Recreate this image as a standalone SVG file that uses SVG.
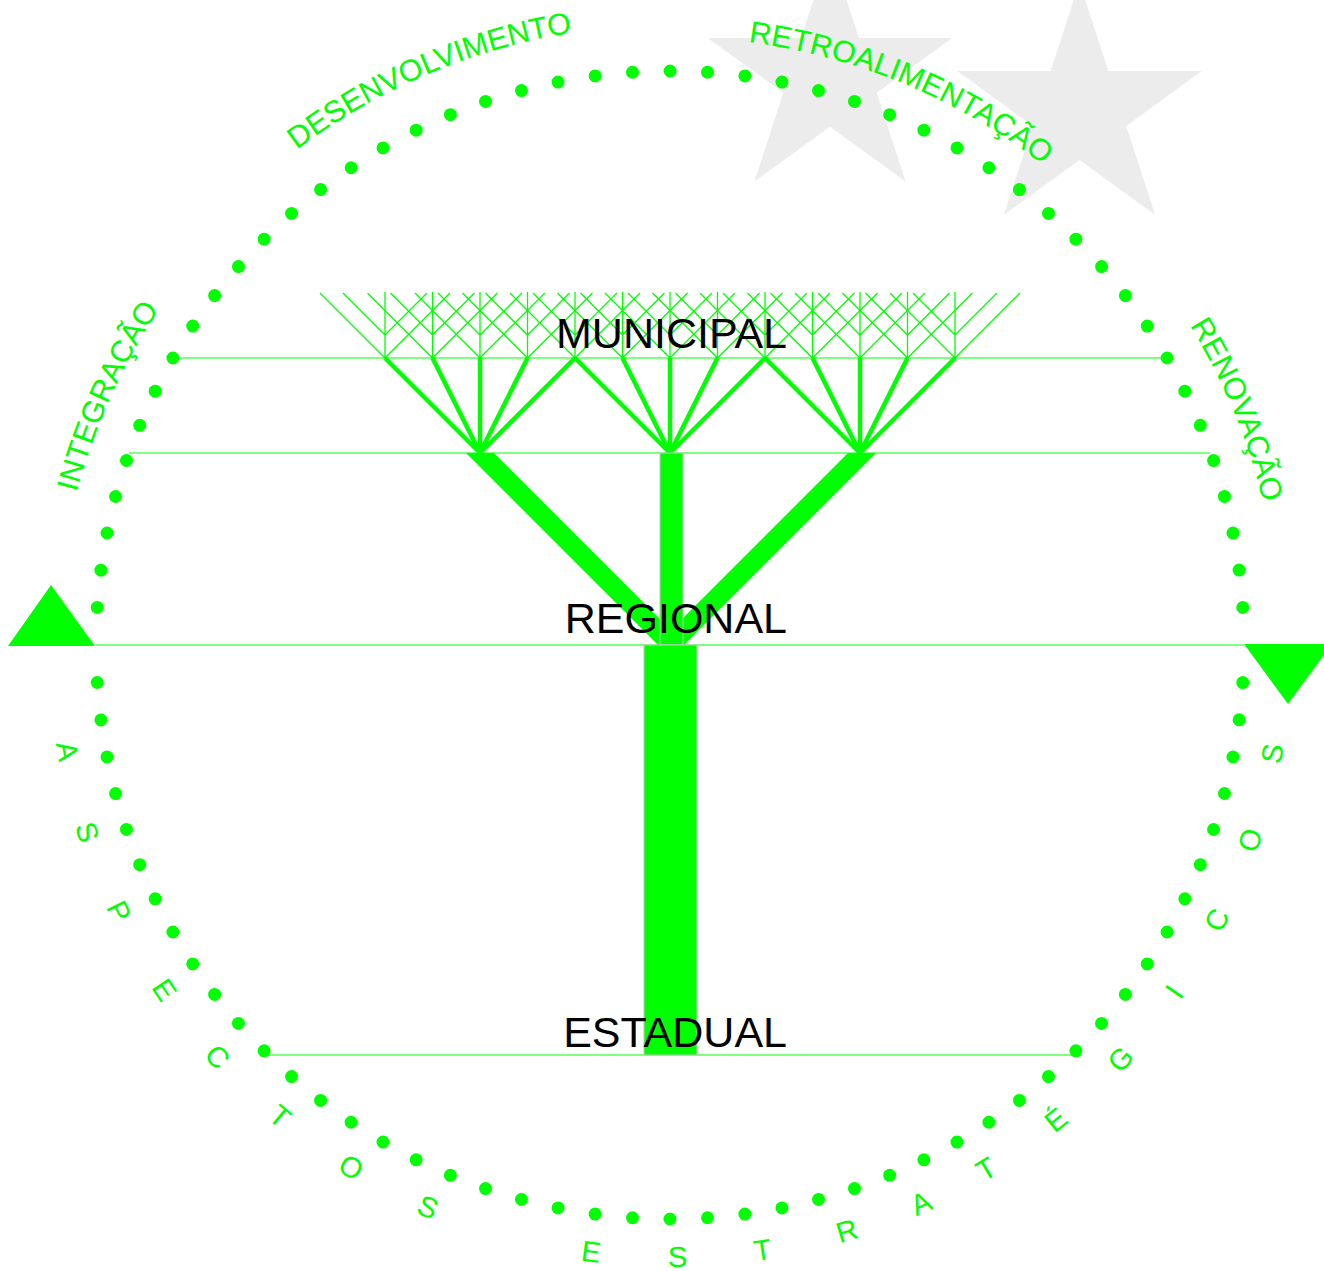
<svg xmlns="http://www.w3.org/2000/svg" width="1324" height="1271" viewBox="0 0 1324 1271">
<style>
.hl{stroke:#00ff00;stroke-width:1.2;fill:none}
.dots{fill:none;stroke:#00ff00;stroke-width:13;stroke-linecap:round}
.lbl{font-family:"Liberation Sans",Arial,sans-serif;font-size:43px;fill:#000000;text-anchor:end}
.arc{font-family:"Liberation Sans",Arial,sans-serif;font-size:30.5px;fill:#00ff00}
.asp{font-family:"Liberation Sans",Arial,sans-serif;font-size:29px;fill:#00ff00;text-anchor:middle}
.trunk{fill:#00ff00;stroke:#c4c4c4;stroke-width:1}
.branch{fill:#00ff00}
</style>
<defs>
<polygon id="star" points="0,-128.5 28.86,-39.72 122.21,-39.71 46.70,15.17 75.53,103.96 0,49.1 -75.53,103.96 -46.70,15.17 -122.21,-39.71 -28.86,-39.72"/>
<path id="twig" d="M0,0V-66M0,0L-65,-65M0,0L65,-65M0,-23L-42,-65M0,-23L42,-65" fill="none" stroke="#00ff00" stroke-width="1.3"/>
<path id="fan" d="M0,0L-95,-95M0,0L-47.5,-95M0,0V-95M0,0L47.5,-95M0,0L95,-95" fill="none" stroke="#00ff00" stroke-width="4.5"/>
<path id="pDes" d="M296.9,149.8 A620,620 0 0 1 777.7,34.4"/>
<path id="pRet" d="M748.3,42.1 A608,608 0 0 1 1135.7,254.2"/>
<path id="pInt" d="M76.9,492.5 A610,610 0 0 1 277.9,177.7"/>
<path id="pRen" d="M1189.6,325.4 A610,610 0 0 1 1280,645"/>
</defs>

<g id="stars" fill="#ececec">
<use href="#star" x="830" y="77.6"/>
<use href="#star" x="1079.5" y="110.8"/>
</g>

<g id="cycle">
<path class="dots" d="M1242.77,682.54 A574,574 0 0 1 96.35,665.03" pathLength="46.4667" stroke-dasharray="0 1"/>
<path class="dots" d="M97.23,607.46 A574,574 0 0 1 1243.65,624.97" pathLength="46.4667" stroke-dasharray="0 1"/>
<polygon id="arrow-left" fill="#00ff00" points="51,585 95,646 8,646"/>
<polygon id="arrow-right" fill="#00ff00" points="1244,644 1332,644 1288,704"/>
</g>

<g id="connectors">
<line class="hl" x1="173" y1="358" x2="1167" y2="358" stroke-width="1.5"/>
<line class="hl" x1="129" y1="453" x2="1210" y2="453"/>
<line class="hl" x1="96" y1="645" x2="1244" y2="645"/>
<line class="hl" x1="264" y1="1055" x2="1076" y2="1055"/>
</g>

<g id="municipal-lattice">
<use href="#twig" x="385" y="358"/>
<use href="#twig" x="432.5" y="358"/>
<use href="#twig" x="480" y="358"/>
<use href="#twig" x="527.5" y="358"/>
<use href="#twig" x="575" y="358"/>
<use href="#twig" x="622.5" y="358"/>
<use href="#twig" x="670" y="358"/>
<use href="#twig" x="717.5" y="358"/>
<use href="#twig" x="765" y="358"/>
<use href="#twig" x="812.5" y="358"/>
<use href="#twig" x="860" y="358"/>
<use href="#twig" x="907.5" y="358"/>
<use href="#twig" x="955" y="358"/>
</g>

<g id="regional-fans">
<use href="#fan" x="480" y="453"/>
<use href="#fan" x="670" y="453"/>
<use href="#fan" x="860" y="453"/>
</g>

<g id="tree">
<polygon class="branch" points="466,453 494,453 686,645 658,645"/>
<polygon class="branch" points="848,453 876,453 684,645 656,645"/>
<rect class="trunk" x="660" y="453" width="23" height="192"/>
<rect class="trunk" x="644" y="645" width="53" height="410"/>
</g>

<g id="level-labels">
<text id="municipal" class="lbl" x="787" y="348">MUNICIPAL</text>
<text id="regional" class="lbl" x="787" y="633">REGIONAL</text>
<text id="estadual" class="lbl" x="787" y="1047">ESTADUAL</text>
</g>

<g id="cycle-labels">
<text class="arc"><textPath href="#pDes">DESENVOLVIMENTO</textPath></text>
<text class="arc"><textPath href="#pRet">RETROALIMENTAÇÃO</textPath></text>
<text class="arc"><textPath href="#pInt">INTEGRAÇÃO</textPath></text>
<text class="arc"><textPath href="#pRen">RENOVAÇÃO</textPath></text>
</g>

<g id="aspectos">
<text class="asp" x="670" y="1267" transform="rotate(80 670 645)">A</text>
<text class="asp" x="670" y="1267" transform="rotate(72.2 670 645)">S</text>
<text class="asp" x="670" y="1267" transform="rotate(64.2 670 645)">P</text>
<text class="asp" x="670" y="1267" transform="rotate(55.7 670 645)">E</text>
<text class="asp" x="670" y="1267" transform="rotate(47.7 670 645)">C</text>
<text class="asp" x="670" y="1267" transform="rotate(39.6 670 645)">T</text>
<text class="asp" x="670" y="1267" transform="rotate(31.4 670 645)">O</text>
<text class="asp" x="670" y="1267" transform="rotate(23.3 670 645)">S</text>
<text class="asp" x="670" y="1267" transform="rotate(7.4 670 645)">E</text>
<text class="asp" x="670" y="1267" transform="rotate(-0.7 670 645)">S</text>
<text class="asp" x="670" y="1267" transform="rotate(-8.7 670 645)">T</text>
<text class="asp" x="670" y="1267" transform="rotate(-16.8 670 645)">R</text>
<text class="asp" x="670" y="1267" transform="rotate(-24.2 670 645)">A</text>
<text class="asp" x="670" y="1267" transform="rotate(-31.1 670 645)">T</text>
<text class="asp" x="670" y="1267" transform="rotate(-39.1 670 645)">É</text>
<text class="asp" x="670" y="1267" transform="rotate(-47.4 670 645)">G</text>
<text class="asp" x="670" y="1267" transform="rotate(-55.5 670 645)">I</text>
<text class="asp" x="670" y="1267" transform="rotate(-63.3 670 645)">C</text>
<text class="asp" x="670" y="1267" transform="rotate(-71.4 670 645)">O</text>
<text class="asp" x="670" y="1267" transform="rotate(-79.8 670 645)">S</text>
</g>
</svg>
